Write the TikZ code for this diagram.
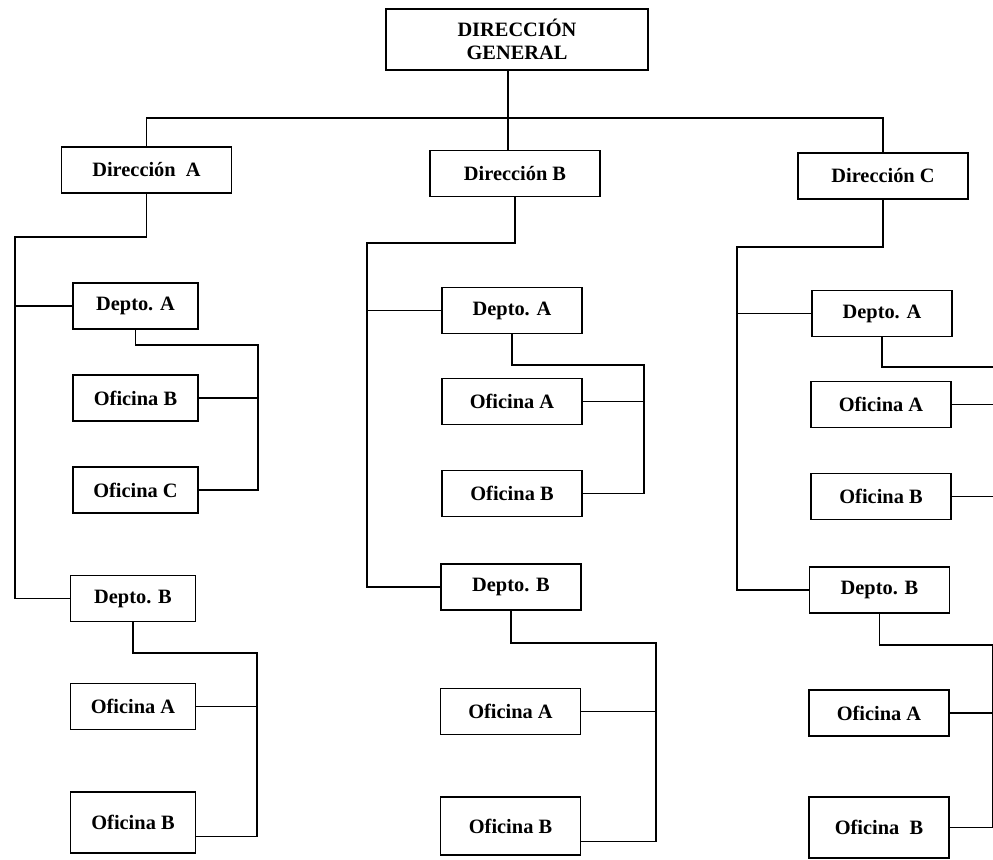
\documentclass[tikz,border=0pt]{standalone}
\usepackage{fontspec}
\setmainfont{Liberation Serif}
\usetikzlibrary{positioning}

\begin{document}
\begin{tikzpicture}[x=0.025cm,y=-0.025cm,
      caja/.style={rectangle,draw=black,line width=1.2pt,inner sep=0pt,outer sep=0pt,minimum height=1.15cm,text centered,font=\fontsize{14.5}{16.5}\selectfont\bfseries},
      dir/.style={caja,minimum width=4.25cm},
      dptA/.style={caja,minimum width=3.125cm},
      dpt/.style={caja,minimum width=3.5cm},
      con/.style={line width=1.2pt}
      ]
      \useasboundingbox (0,0) rectangle (993,860);
      \node (dg) [caja,minimum width=6.55cm,minimum height=1.525cm,align=center] at (517,39.5) {DIRECCIÓN\\GENERAL};
      \node (dirA) [dir] at (146.5,170) {Dirección~ A};
      \node (dirB) [dir] at (515,173.5) {Dirección B};
      \node (dirC) [dir] at (883,176) {Dirección C};
      % columna A
      \node (depAA) [dptA] at (135.5,306) {Depto. A};
      \node (ofAAB) [dptA] at (135.5,398) {Oficina B};
      \node (ofAAC) [dptA] at (135.5,490) {Oficina C};
      \node (depAB) [dptA] at (133,598.5) {Depto. B};
      \node (ofABA) [dptA] at (133,706.5) {Oficina A};
      \node (ofABB) [dptA,minimum height=1.525cm] at (133,822.5) {Oficina B};
      % columna B
      \node (depBA) [dpt] at (512,310.5) {Depto. A};
      \node (ofBAA) [dpt] at (512,401.5) {Oficina A};
      \node (ofBAB) [dpt] at (512,493.5) {Oficina B};
      \node (depBB) [dpt] at (511,587) {Depto. B};
      \node (ofBBA) [dpt] at (510.5,711.5) {Oficina A};
      \node (ofBBB) [dpt,minimum height=1.45cm] at (510.5,826) {Oficina B};
      % columna C
      \node (depCA) [dpt] at (882,313.5) {Depto. A};
      \node (ofCAA) [dpt] at (881,404.5) {Oficina A};
      \node (ofCAB) [dpt] at (881,496.5) {Oficina B};
      \node (depCB) [dpt] at (879.5,590) {Depto. B};
      \node (ofCBA) [dpt] at (879,713) {Oficina A};
      \node (ofCBB) [dpt,minimum height=1.525cm] at (879,827.5) {Oficina~ B};
      \coordinate (bus) at (508,118);
      \draw[con] (dg.south -| bus) -- (dirB.north -| bus);
      \draw[con] (dirA.north) |- (bus) -| (dirC.north);
      \coordinate (ejeA) at (15,237);
      \draw[con] (dirA.south) |- (ejeA) |- (depAB.west);
      \draw[con] (ejeA |- depAA.west) -- (depAA.west);
      \coordinate (ramAA) at (258,345);
      \draw[con] (depAA.south) |- (ramAA) |- (ofAAC.east);
      \draw[con] (ofAAB.east) -- (ofAAB.east -| ramAA);
      \coordinate (ramAB) at (257,653);
      \draw[con] (depAB.south) |- (ramAB) |- ([yshift=-10pt]ofABB.east);
      \draw[con] (ofABA.east) -- (ofABA.east -| ramAB);
      \coordinate (ejeB) at (367,243);
      \draw[con] (dirB.south) |- (ejeB) |- (depBB.west);
      \draw[con] (ejeB |- depBA.west) -- (depBA.west);
      \coordinate (ramBA) at (644,365);
      \draw[con] (depBA.south) |- (ramBA) |- (ofBAB.east);
      \draw[con] (ofBAA.east) -- (ofBAA.east -| ramBA);
      \coordinate (ramBB) at (656,643);
      \draw[con] (depBB.south) |- (ramBB) |- ([yshift=-11pt]ofBBB.east);
      \draw[con] (ofBBA.east) -- (ofBBA.east -| ramBB);
      \coordinate (ejeC) at (737,247);
      \draw[con] (dirC.south) |- (ejeC) |- (depCB.west);
      \draw[con] (ejeC |- depCA.west) -- (depCA.west);
      \coordinate (ramCA) at (996,367);
      \draw[con] (depCA.south) |- (ramCA) |- (ofCAB.east);
      \draw[con] (ofCAA.east) -- (ofCAA.east -| ramCA);
      \coordinate (ramCB) at (993,645);
      \draw[con] (depCB.south) |- (ramCB) |- (ofCBB.east);
      \draw[con] (ofCBA.east) -- (ofCBA.east -| ramCB);
\end{tikzpicture}
\end{document}
